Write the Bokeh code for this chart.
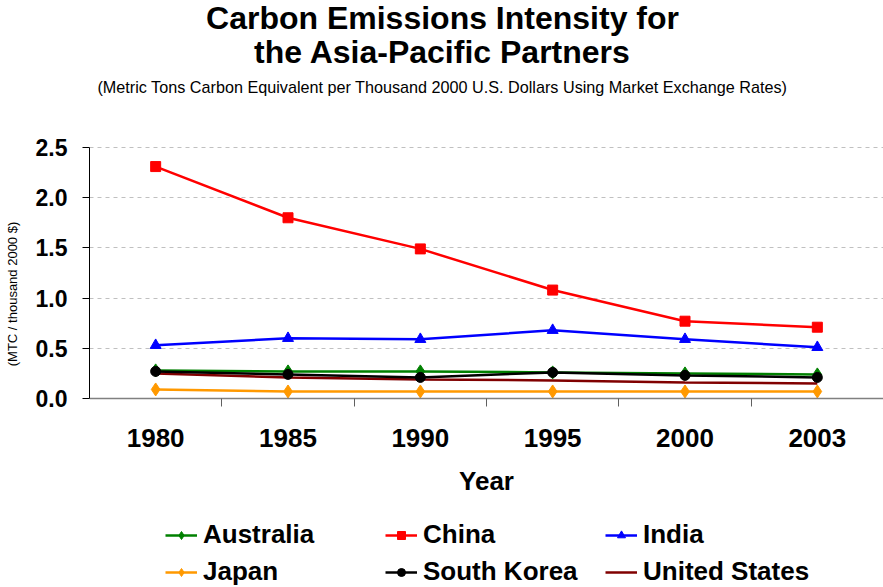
from bokeh.plotting import figure
from bokeh.models import (Range1d, FixedTicker, Label, Legend, LegendItem,
                          PrintfTickFormatter)
from bokeh.embed import file_html
from bokeh.resources import INLINE

years = [1980, 1985, 1990, 1995, 2000, 2003]
australia = [0.28, 0.27, 0.27, 0.26, 0.25, 0.24]
china = [2.31, 1.80, 1.49, 1.08, 0.77, 0.71]
india = [0.53, 0.60, 0.59, 0.68, 0.59, 0.51]
japan = [0.09, 0.07, 0.07, 0.07, 0.07, 0.07]
south_korea = [0.27, 0.24, 0.21, 0.26, 0.23, 0.21]
united_states = [0.25, 0.21, 0.19, 0.18, 0.16, 0.15]
y_ticks = [0.0, 0.5, 1.0, 1.5, 2.0, 2.5]

title_1 = "Carbon Emissions Intensity for"
title_2 = "the Asia-Pacific Partners"
subtitle = "(Metric Tons Carbon Equivalent per Thousand 2000 U.S. Dollars Using Market Exchange Rates)"
y_label = "(MTC / thousand 2000 $)"
x_label = "Year"

FONT = "Liberation Sans"
W, H = 883, 587
FRAME_LEFT = 89          # px: left edge of the plotting area
ZERO_Y = 398             # px from top where the value 0 sits
TOP_Y = 147              # px from top where the value 2.5 sits
Y_MAX = y_ticks[-1]
px_per_unit = (ZERO_Y - TOP_Y) / Y_MAX
# the frame covers the whole height so titles and legend can live in it
y_start = -(H - ZERO_Y) / px_per_unit
y_end = ZERO_Y / px_per_unit

xs = list(range(len(years)))
p = figure(width=W, height=H, output_backend="svg", toolbar_location=None,
           x_range=Range1d(-0.5, len(years) - 0.5),
           y_range=Range1d(y_start, y_end),
           min_border_left=FRAME_LEFT, min_border_right=0, min_border_top=0,
           min_border_bottom=0)
p.outline_line_color = None

# x axis, drawn at value 0
xaxis = p.xaxis[0]
xaxis.fixed_location = 0
xaxis.ticker = FixedTicker(ticks=xs, minor_ticks=[i + 0.5 for i in xs[:-1]])
xaxis.major_label_overrides = {i: str(y) for i, y in zip(xs, years)}
xaxis.major_tick_out = 0
xaxis.major_tick_in = 0
xaxis.minor_tick_out = 8
xaxis.minor_tick_in = 0
xaxis.minor_tick_line_color = "#606060"
xaxis.axis_line_color = "#808080"
xaxis.axis_line_width = 1.5
xaxis.major_label_text_font = FONT
xaxis.major_label_text_font_style = "bold"
xaxis.major_label_text_font_size = "26px"
xaxis.major_label_text_color = "black"
xaxis.major_label_standoff = 22
xaxis.axis_label = x_label
xaxis.axis_label_text_font = FONT
xaxis.axis_label_text_font_style = "bold"
xaxis.axis_label_text_font_size = "26px"
xaxis.axis_label_text_color = "black"
xaxis.axis_label_standoff = 16
p.xgrid.grid_line_color = None

# y axis, only drawn over 0 .. 2.5
yaxis = p.yaxis[0]
yaxis.ticker = FixedTicker(ticks=y_ticks)
yaxis.bounds = (y_ticks[0], Y_MAX)
yaxis.formatter = PrintfTickFormatter(format="%.1f")
yaxis.major_tick_out = 7
yaxis.major_tick_in = 0
yaxis.minor_tick_out = 0
yaxis.minor_tick_in = 0
yaxis.axis_line_color = "black"
yaxis.major_tick_line_color = "black"
yaxis.major_label_text_font = FONT
yaxis.major_label_text_font_style = "bold"
yaxis.major_label_text_font_size = "23px"
yaxis.major_label_text_color = "black"
yaxis.major_label_standoff = 15
yaxis.axis_label = y_label
yaxis.axis_label_text_font = FONT
yaxis.axis_label_text_font_style = "normal"
yaxis.axis_label_text_font_size = "13px"
yaxis.axis_label_text_color = "black"
yaxis.axis_label_standoff = 13
p.ygrid.ticker = FixedTicker(ticks=y_ticks[1:])
p.ygrid.grid_line_color = "#c0c0c0"
p.ygrid.grid_line_dash = "4 4"
p.ygrid.grid_line_width = 1

series = [
    ("United States", united_states, "#800000", None),
    ("Australia", australia, "#008000", "diamond"),
    ("Japan", japan, "#FF9900", "diamond"),
    ("South Korea", south_korea, "black", "circle"),
    ("India", india, "#0000FF", "triangle"),
    ("China", china, "#FF0000", "square"),
]
sizes = {"diamond": 13, "circle": 10, "triangle": 11, "square": 10}
renderers = {}
for name, vals, color, marker in series:
    rs = [p.line(xs, vals, line_color=color, line_width=2.5)]
    if marker:
        rs.append(p.scatter(xs, vals, marker=marker, size=sizes[marker],
                            fill_color=color, line_color=color))
    renderers[name] = rs

order = ["Australia", "China", "India", "Japan", "South Korea", "United States"]
legend = Legend(items=[LegendItem(label=n, renderers=renderers[n]) for n in order],
                location=(165 - FRAME_LEFT, 0), orientation="horizontal", ncols=3,
                glyph_width=32, glyph_height=20, label_height=30,
                label_width=176, label_standoff=6, spacing=6, padding=0,
                margin=0, border_line_color=None, background_fill_alpha=0,
                label_text_font=FONT, label_text_font_style="bold",
                label_text_font_size="26px", label_text_color="black")
p.add_layout(legend, "center")

# titles, in screen px measured from the frame's bottom-left corner
cx = 442 - FRAME_LEFT
for txt, base_y, size, style in [(title_1, 17, "32px", "bold"),
                                 (title_2, 51, "32px", "bold"),
                                 (subtitle, 86, "16.2px", "normal")]:
    p.add_layout(Label(x=cx, y=H - base_y, x_units="screen",
                       y_units="screen", text=txt, text_align="center",
                       text_baseline="alphabetic", text_font=FONT,
                       text_font_style=style, text_font_size=size,
                       text_color="black"))

open("out.html", "w").write(file_html(p, INLINE))
